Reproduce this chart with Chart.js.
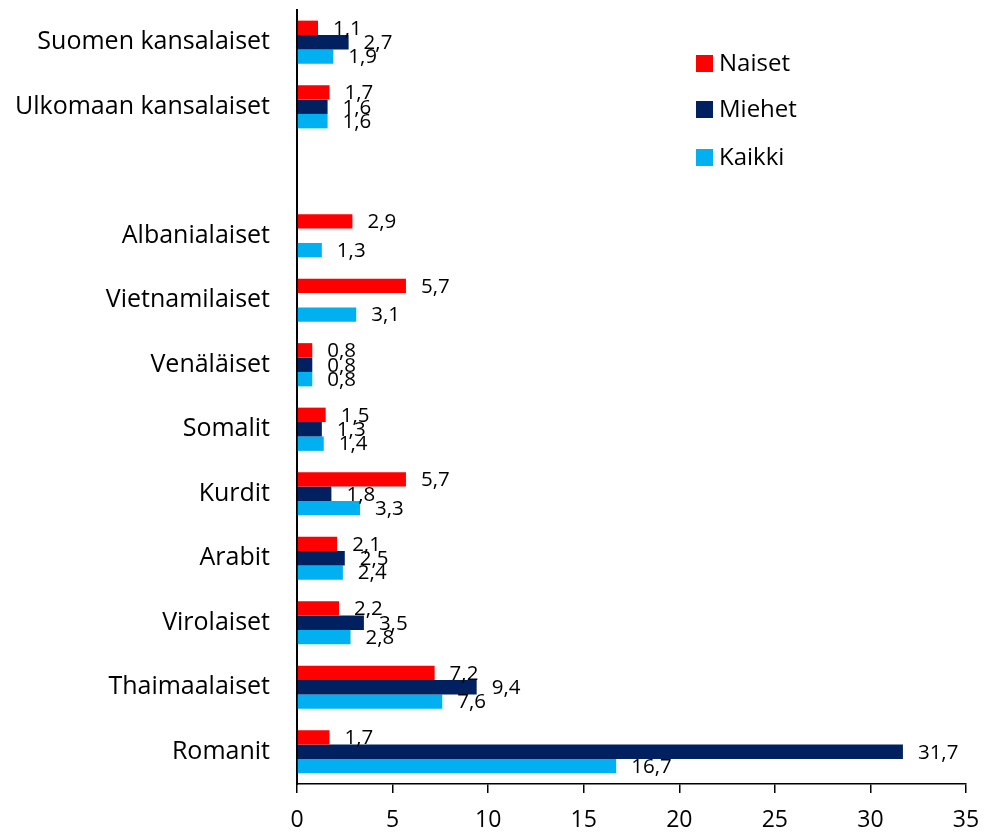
<!DOCTYPE html>
<html><head><meta charset="utf-8">
<script src="https://cdn.jsdelivr.net/npm/chart.js@4.4.1/dist/chart.umd.min.js"></script>
<style>html,body{margin:0;padding:0;background:#fff}#wrap{width:988px;height:833px}</style>
</head><body><div id="wrap"><canvas id="c" width="988" height="833"></canvas></div>
<script>
const categories = ['Suomen kansalaiset','Ulkomaan kansalaiset','','Albanialaiset','Vietnamilaiset','Venäläiset','Somalit','Kurdit','Arabit','Virolaiset','Thaimaalaiset','Romanit'];
const naiset = [1.1,1.7,null,2.9,5.7,0.8,1.5,5.7,2.1,2.2,7.2,1.7];
const miehet = [2.7,1.6,null,null,null,0.8,1.3,1.8,2.5,3.5,9.4,31.7];
const kaikki = [1.9,1.6,null,1.3,3.1,0.8,1.4,3.3,2.4,2.8,7.6,16.7];
const seriesNames = ['Naiset','Miehet','Kaikki'];
const colors = ['#FF0000','#002060','#00B0F0'];
const xTicks = [0,5,10,15,20,25,30,35];

const FONT = '"Open Sans", Lato, sans-serif';

const labelPlugin = {
  id:'vals',
  afterDatasetsDraw(chart){
    const ctx = chart.ctx;
    ctx.save();
    ctx.font = '20.5px ' + FONT;
    ctx.fillStyle = '#000';
    ctx.textBaseline = 'middle';
    ctx.textAlign = 'left';
    chart.data.datasets.forEach((ds,i)=>{
      const meta = chart.getDatasetMeta(i);
      meta.data.forEach((bar,j)=>{
        const v = ds.data[j];
        if(v===null||v===undefined) return;
        ctx.fillText(String(v.toFixed(1)).replace('.',','), bar.x + 15, bar.y + 1);
      });
    });
    ctx.restore();
  }
};

const legendPlugin = {
  id:'leg',
  afterDraw(chart){
    const ctx = chart.ctx;
    ctx.save();
    ctx.font = '24px ' + FONT;
    ctx.textBaseline = 'middle';
    ctx.textAlign = 'left';
    const ys = [63,109,157];
    seriesNames.forEach((n,i)=>{
      ctx.fillStyle = colors[i];
      ctx.fillRect(696, ys[i]-8, 17, 17);
      ctx.fillStyle = '#000';
      ctx.fillText(n, 719, ys[i]+1);
    });
    ctx.restore();
  }
};

new Chart(document.getElementById('c'), {
  type:'bar',
  data:{
    labels: categories,
    datasets: [naiset,miehet,kaikki].map((d,i)=>({
      label: seriesNames[i], data: d, backgroundColor: colors[i],
      categoryPercentage: 0.67, barPercentage: 1.0
    }))
  },
  options:{
    indexAxis:'y',
    responsive:false,
    animation:false,
    layout:{padding:{top:10,right:22,left:0,bottom:0}},
    plugins:{legend:{display:false},tooltip:{enabled:false}},
    scales:{
      x:{
        min:0,max:35,
        afterBuildTicks(s){ s.ticks = xTicks.map(v=>({value:v})); },
        grid:{display:true,drawOnChartArea:false,drawTicks:true,tickLength:9,color:'#000',lineWidth:1.5},
        border:{display:true,color:'#000',width:1.5},
        ticks:{font:{family:FONT,size:23},color:'#000',padding:14,maxRotation:0},
        afterFit(s){ s.height = 49; s.paddingLeft = 0; s.paddingRight = 0; }
      },
      y:{
        grid:{display:false,drawTicks:false},
        border:{display:true,color:'#000',width:2},
        ticks:{font:{family:FONT,size:25},color:'#000',padding:27,autoSkip:false},
        afterFit(s){ s.width = 297; s.paddingTop = 0; s.paddingBottom = 0; }
      }
    }
  },
  plugins:[labelPlugin,legendPlugin]
});
</script></body></html>
